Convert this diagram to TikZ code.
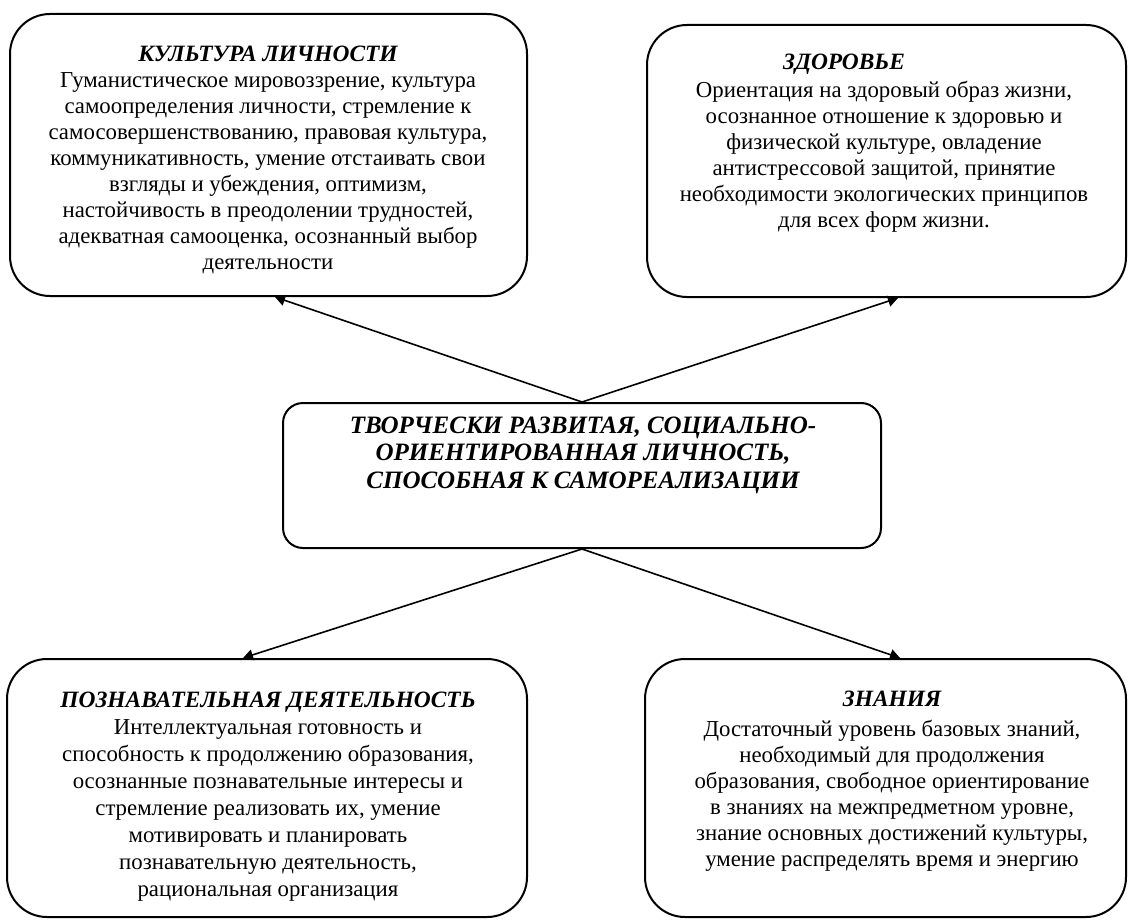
\documentclass[tikz,border=0pt]{standalone}
\usepackage{fontspec}
\setmainfont{Liberation Serif}
\usetikzlibrary{arrows.meta}
\begin{document}
\begin{tikzpicture}[x=0.5pt,y=-0.5pt,
  box/.style={draw,line width=1pt,rounded corners=20pt,inner sep=0pt},
  cbox/.style={draw,line width=1pt,rounded corners=10pt,inner sep=0pt},
  txt/.style={align=center,inner sep=0pt,font=\fontsize{11.4}{13}\selectfont},
  ttl/.style={inner sep=0pt,font=\fontsize{11.7}{13}\selectfont\bfseries\itshape},
  ctxt/.style={align=center,inner sep=0pt,font=\fontsize{12.5}{13.75}\selectfont\bfseries\itshape},
  conn/.style={line width=0.8pt,-{Triangle[length=5pt,width=5.5pt]}}]
\useasboundingbox (0,0) rectangle (1129,920);
% boxes
\node[box,minimum width=258.5pt,minimum height=141pt] (tl) at (268.5,155) {};
\node[box,minimum width=239.5pt,minimum height=136pt] (tr) at (886.5,161) {};
\node[cbox,minimum width=299pt,minimum height=72.5pt] (c) at (582,475.5) {};
\node[box,minimum width=260pt,minimum height=129pt] (bl) at (267,788) {};
\node[box,minimum width=240.5pt,minimum height=129pt] (br) at (885.5,788) {};
% texts
\node[txt] (tltext) at (268,160) {{\fontsize{11.7}{13}\selectfont\bfseries\itshape КУЛЬТУРА ЛИЧНОСТИ}\\
Гуманистическое мировоззрение, культура\\
самоопределения личности, стремление к\\
самосовершенствованию, правовая культура,\\
коммуникативность, умение отстаивать свои\\
взгляды и убеждения, оптимизм,\\
настойчивость в преодолении трудностей,\\
адекватная самооценка, осознанный выбор\\
деятельности};
\node[ttl] (trtitle) at (844,64) {ЗДОРОВЬЕ};
\node[txt] (trtext) at (884,157) {Ориентация на здоровый образ жизни,\\
осознанное отношение к здоровью и\\
физической культуре, овладение\\
антистрессовой защитой, принятие\\
необходимости экологических принципов\\
для всех форм жизни.};
\node[ctxt] (ctext) at (583,455) {ТВОРЧЕСКИ РАЗВИТАЯ, СОЦИАЛЬНО-\\
ОРИЕНТИРОВАННАЯ ЛИЧНОСТЬ,\\
СПОСОБНАЯ К САМОРЕАЛИЗАЦИИ};
\node[txt,font=\fontsize{11.4}{13.5}\selectfont] (bltext) at (268,797) {{\fontsize{11.7}{13}\selectfont\bfseries\itshape ПОЗНАВАТЕЛЬНАЯ ДЕЯТЕЛЬНОСТЬ}\\
Интеллектуальная готовность и\\
способность к продолжению образования,\\
осознанные познавательные интересы и\\
стремление реализовать их, умение\\
мотивировать и планировать\\
познавательную деятельность,\\
рациональная организация};
\node[txt] (brtext) at (892,781) {{\fontsize{11.7}{13}\selectfont\bfseries\itshape ЗНАНИЯ}\\[2pt]
Достаточный уровень базовых знаний,\\
необходимый для продолжения\\
образования, свободное ориентирование\\
в знаниях на межпредметном уровне,\\
знание основных достижений культуры,\\
умение распределять время и энергию};
% connectors
\draw[conn] (c.north) -- ([xshift=3.25pt]tl.south);
\draw[conn] (c.north) -- ([xshift=5.75pt]tr.south);
\draw[conn] (c.south) -- ([xshift=-12pt]bl.north);
\draw[conn] (c.south) -- ([xshift=7.25pt]br.north);
\end{tikzpicture}
\end{document}
